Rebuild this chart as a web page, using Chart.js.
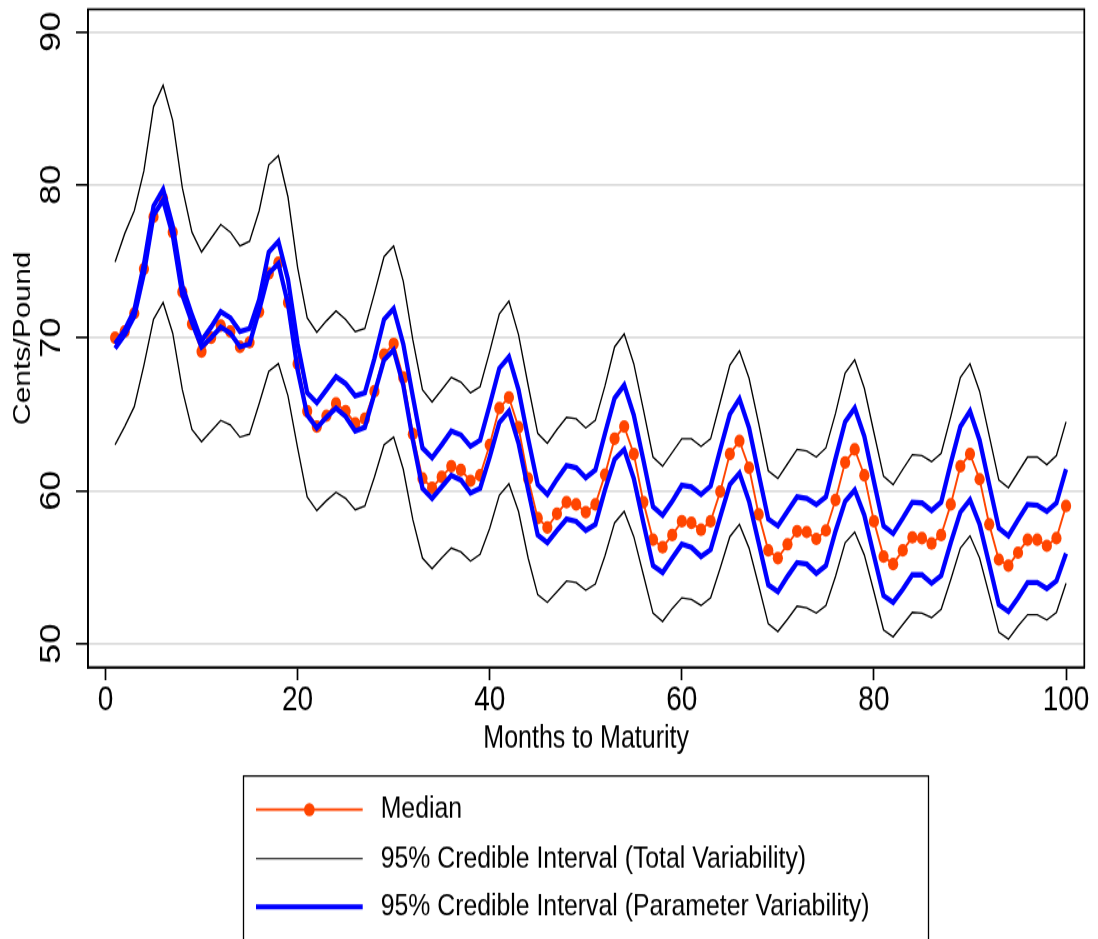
<!DOCTYPE html>
<html><head><meta charset="utf-8">
<script src="https://cdn.jsdelivr.net/npm/chart.js@4"></script>
<style>html,body{margin:0;padding:0;background:#fff;}canvas{display:block;}</style>
</head><body>
<canvas id="c" width="1098" height="751" style="width:1098px;height:939px;"></canvas>
<script>
const months = [1,2,3,4,5,6,7,8,9,10,11,12,13,14,15,16,17,18,19,20,21,22,23,24,25,26,27,28,29,30,31,32,33,34,35,36,37,38,39,40,41,42,43,44,45,46,47,48,49,50,51,52,53,54,55,56,57,58,59,60,61,62,63,64,65,66,67,68,69,70,71,72,73,74,75,76,77,78,79,80,81,82,83,84,85,86,87,88,89,90,91,92,93,94,95,96,97,98,99,100];
const median = [70.0,70.4,71.6,74.5,77.9,79.1,76.9,73.0,70.9,69.1,70.0,70.8,70.4,69.4,69.7,71.7,74.2,74.9,72.3,68.3,65.2,64.2,64.9,65.7,65.2,64.4,64.7,66.5,68.9,69.6,67.4,63.7,60.8,60.2,60.9,61.6,61.35,60.65,61.0,63.0,65.4,66.1,64.15,60.8,58.2,57.6,58.5,59.25,59.1,58.6,59.1,61.05,63.4,64.2,62.4,59.25,56.8,56.3,57.1,58.0,57.9,57.45,58.0,59.95,62.4,63.25,61.5,58.45,56.1,55.6,56.5,57.35,57.3,56.85,57.4,59.4,61.85,62.7,61.0,58.0,55.7,55.2,56.1,56.95,56.9,56.55,57.1,59.1,61.6,62.4,60.75,57.8,55.5,55.1,55.95,56.8,56.8,56.4,56.9,59.0];
const totalUpper = [74.95,76.8,78.3,80.9,85.1,86.5,84.2,79.8,76.9,75.6,76.5,77.4,76.9,76.0,76.3,78.3,81.3,81.9,79.2,74.6,71.3,70.35,71.1,71.75,71.2,70.4,70.6,72.9,75.3,76.0,73.7,69.85,66.6,65.8,66.6,67.4,67.1,66.4,66.8,69.1,71.55,72.4,70.2,66.9,63.75,63.1,64.0,64.8,64.7,64.1,64.6,66.85,69.4,70.25,68.3,65.3,62.2,61.6,62.5,63.4,63.4,62.9,63.4,65.8,68.2,69.15,67.35,64.4,61.3,60.8,61.75,62.7,62.6,62.2,62.8,65.05,67.7,68.55,66.7,63.8,60.95,60.4,61.4,62.35,62.3,61.9,62.45,64.85,67.4,68.3,66.5,63.6,60.7,60.2,61.2,62.2,62.2,61.7,62.3,64.5];
const totalLower = [63.0,64.2,65.5,68.2,71.2,72.3,70.3,66.6,64.0,63.2,63.9,64.6,64.3,63.5,63.7,65.7,67.8,68.3,66.2,62.8,59.6,58.7,59.35,59.9,59.5,58.75,59.0,60.9,63.0,63.5,61.4,58.1,55.6,54.9,55.6,56.25,56.0,55.4,55.85,57.55,59.7,60.45,58.65,55.6,53.2,52.7,53.4,54.1,54.0,53.5,53.9,55.75,57.9,58.65,57.0,54.5,52.0,51.45,52.3,53.0,52.9,52.5,53.0,54.95,57.0,57.8,56.25,53.8,51.3,50.8,51.6,52.45,52.35,52.0,52.5,54.4,56.6,57.3,55.8,53.4,50.9,50.45,51.25,52.05,52.0,51.7,52.25,54.2,56.25,57.05,55.6,53.2,50.75,50.3,51.15,51.9,51.9,51.55,52.05,53.95];
const paramUpper = [69.6,70.5,71.8,74.8,78.6,79.7,77.3,73.4,71.5,69.8,70.7,71.7,71.3,70.4,70.6,72.5,75.6,76.3,73.8,69.6,66.4,65.75,66.6,67.45,67.0,66.2,66.4,68.65,71.2,71.9,69.6,66.15,62.8,62.15,63.0,63.9,63.65,62.9,63.3,65.6,68.0,68.75,66.6,63.4,60.4,59.75,60.75,61.65,61.5,60.85,61.35,63.75,66.05,66.9,64.95,62.0,58.95,58.4,59.3,60.35,60.25,59.75,60.3,62.7,65.0,66.0,64.1,61.1,58.15,57.7,58.65,59.6,59.5,59.1,59.6,62.1,64.5,65.4,63.55,60.6,57.7,57.2,58.2,59.25,59.2,58.7,59.25,61.8,64.2,65.2,63.3,60.4,57.55,57.05,58.1,59.1,59.05,58.65,59.2,61.4];
const paramLower = [69.3,70.2,71.4,74.2,78.0,79.0,76.7,72.8,71.0,69.4,70.0,70.7,70.3,69.4,69.6,71.8,74.2,74.85,72.2,67.9,64.95,64.1,64.8,65.4,64.85,63.9,64.15,66.35,68.55,69.2,66.9,63.3,60.15,59.5,60.25,61.0,60.7,59.85,60.15,62.2,64.45,65.2,63.1,60.05,57.1,56.6,57.4,58.15,58.0,57.4,57.8,60.05,62.05,62.7,60.8,57.9,55.1,54.65,55.6,56.5,56.3,55.7,56.15,58.3,60.4,61.15,59.3,56.6,53.85,53.4,54.4,55.3,55.2,54.6,55.1,57.35,59.3,60.05,58.4,55.75,53.15,52.7,53.55,54.5,54.5,53.95,54.45,56.6,58.6,59.4,57.8,55.2,52.55,52.1,53.0,54.0,54.0,53.6,54.1,55.9];
const xTicks = [0,20,40,60,80,100];
const yTicks = [50,60,70,80,90];
const seriesLabels = ['Median','95% Credible Interval (Total Variability)','95% Credible Interval (Parameter Variability)'];
const xTitle = 'Months to Maturity';
const yTitle = 'Cents/Pound';

const ORANGE = '#ff4500', BLUE = '#0000ff', BLACK = '#000000';
const pts = arr => months.map((m, i) => ({x: m, y: arr[i]}));
const FONT = '"Liberation Sans", Arial, Helvetica, sans-serif';
Chart.defaults.font.family = FONT;
Chart.defaults.color = '#000';

const datasets = [
  {label: seriesLabels[2], data: pts(paramUpper), borderColor: BLUE, borderWidth: 4.3, pointRadius: 0, order: 1, legendRow: 2, legendWidth: 4},
  {label: seriesLabels[2] + ' lower', data: pts(paramLower), borderColor: BLUE, borderWidth: 4.3, pointRadius: 0, order: 1},
  {label: seriesLabels[0], data: pts(median), borderColor: ORANGE, backgroundColor: ORANGE, borderWidth: 1.9, pointRadius: 5.1, pointBorderWidth: 0, pointBackgroundColor: ORANGE, order: 2, legendRow: 0, legendWidth: 1.9, legendPoint: 5.3},
  {label: seriesLabels[1], data: pts(totalUpper), borderColor: BLACK, borderWidth: 1.35, pointRadius: 0, order: 3, legendRow: 1, legendWidth: 1.1},
  {label: seriesLabels[1] + ' lower', data: pts(totalLower), borderColor: BLACK, borderWidth: 1.35, pointRadius: 0, order: 3}
];

const framePlugin = {
  id: 'frame',
  afterDatasetsDraw(chart) {
    const {ctx, chartArea: a} = chart;
    ctx.save();
    ctx.strokeStyle = '#000';
    ctx.lineWidth = 1.7;
    ctx.strokeRect(a.left, a.top, a.right - a.left, a.bottom - a.top);
    ctx.restore();
  }
};

const legendPlugin = {
  id: 'legendBox',
  afterDraw(chart) {
    const ctx = chart.ctx;
    ctx.save();
    ctx.strokeStyle = '#000';
    ctx.lineWidth = 1.3;
    ctx.strokeRect(243.5, 620.6, 685, 200);
    const rowY = [647.5, 686.7, 725.3];
    const x0 = 256, x1 = 362.7, tx = 380.7;
    chart.data.datasets.forEach(d => {
      if (d.legendRow === undefined) return;
      const y = rowY[d.legendRow];
      ctx.strokeStyle = d.borderColor;
      ctx.lineWidth = d.legendWidth;
      ctx.beginPath(); ctx.moveTo(x0, y); ctx.lineTo(x1, y); ctx.stroke();
      if (d.legendPoint) {
        ctx.fillStyle = d.borderColor;
        ctx.beginPath(); ctx.arc((x0 + x1) / 2, y, d.legendPoint, 0, Math.PI * 2); ctx.fill();
      }
      ctx.fillStyle = '#000';
      ctx.font = '24.8px ' + FONT;
      ctx.textAlign = 'left';
      ctx.textBaseline = 'middle';
      ctx.fillText(d.label, tx, y);
    });
    ctx.restore();
  }
};

new Chart(document.getElementById('c'), {
  type: 'line',
  data: {datasets},
  plugins: [framePlugin, legendPlugin],
  options: {
    responsive: false,
    devicePixelRatio: 1,
    animation: false,
    events: [],
    layout: {padding: {top: 7.44, right: 13.7, left: 0, bottom: 147.4}},
    plugins: {legend: {display: false}, tooltip: {enabled: false}},
    elements: {line: {tension: 0, fill: false}},
    scales: {
      x: {
        type: 'linear', min: -1.82, max: 101.9,
        afterBuildTicks: s => { s.ticks = xTicks.map(v => ({value: v})); },
        afterFit: s => { s.height = 70; s.paddingLeft = 0; s.paddingRight = 0; s.paddingTop = 0; s.paddingBottom = 0; },
        grid: {display: true, drawOnChartArea: false, drawTicks: true, tickLength: 10.4, tickWidth: 1.7, tickColor: '#000'},
        border: {display: true, color: '#000', width: 1.7},
        ticks: {font: {size: 28, lineHeight: 1}, padding: 2.7, maxRotation: 0, autoSkip: false, color: '#000'},
        title: {display: true, text: xTitle, font: {size: 25, lineHeight: 1}, padding: {top: 0, bottom: 0}, color: '#000'}
      },
      y: {
        type: 'linear', min: 48.464, max: 91.465,
        afterBuildTicks: s => { s.ticks = yTicks.map(v => ({value: v})); },
        afterFit: s => { s.width = 88; s.paddingTop = 0; s.paddingBottom = 0; s.paddingLeft = 0; s.paddingRight = 0; },
        grid: {display: true, drawOnChartArea: true, color: '#dcdcdc', lineWidth: 1.7, drawTicks: true, tickLength: 12, tickWidth: 1.6, tickColor: '#000'},
        border: {display: true, color: '#000', width: 1.7},
        ticks: {font: {size: 29, lineHeight: 1}, padding: 8, minRotation: 90, maxRotation: 90, crossAlign: 'center', autoSkip: false, color: '#000'},
        title: {display: true, text: yTitle, font: {size: 24, lineHeight: 1}, padding: {top: 11.5, bottom: 0}, color: '#000'}
      }
    }
  }
});
</script>
</body></html>
